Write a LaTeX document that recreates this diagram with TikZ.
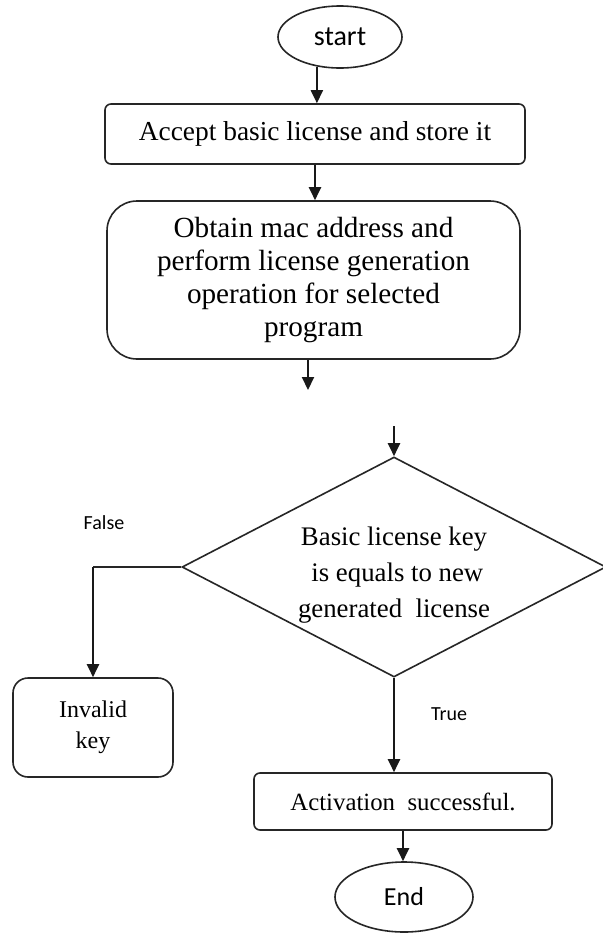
\documentclass[tikz,border=0pt]{standalone}
\usepackage{fontspec}
\setmainfont{Liberation Serif}
\newfontfamily\calib{Carlito}
\usetikzlibrary{shapes.geometric,arrows.meta,calc}

\begin{document}
\begin{tikzpicture}[x=0.5pt, y=-0.5pt,
    flowline/.style={draw=black!85, line width=0.8pt},
    flowarrow/.style={draw=black!90, line width=1pt, -{Triangle[length=6.5pt,width=6pt]}},
    terminal/.style={ellipse, flowline, fill=white, inner sep=0pt},
    procbox/.style={rectangle, flowline, fill=white, inner sep=0pt, align=center},
    decision/.style={diamond, flowline, inner sep=0pt, shape aspect=1.9, align=center},
    branchlabel/.style={font=\calib\fontsize{10}{12}\selectfont}]

    \fill[white] (0,0) rectangle (602,933);
    \useasboundingbox (0,0) rectangle (602,933);

    % Start and first step
    \node[terminal, minimum width=62pt, minimum height=31pt, font=\calib\fontsize{14}{16}\selectfont] (start) at (340,37) {start};
    \node[procbox, rounded corners=3pt, minimum width=210pt, minimum height=30pt, font=\fontsize{13.7}{16}\selectfont] (accept) at (315,134) {Accept basic license and store it};

    % Generation step
    \node[procbox, rounded corners=15pt, minimum width=206.5pt, minimum height=79pt, font=\fontsize{14.6}{16.5}\selectfont] (generate) at (313.5,280) {Obtain mac address and\\ perform license generation\\ operation for selected\\ program};
    \coordinate (gap) at (308,390);

    % Comparison
    \node[decision, minimum width=212pt, minimum height=110pt, font=\fontsize{13.4}{18}\selectfont] (check) at (394,567) {\rule{0pt}{17.5pt}Basic license key\\ ~is equals to new\\ generated~~license};
    \coordinate (into) at ($(check.north)+(0,-30)$);

    % Outcomes
    \node[procbox, rounded corners=7.5pt, minimum width=80pt, minimum height=49.5pt, font=\fontsize{12}{15.5}\selectfont] (invalid) at (93,727.5) {Invalid\\ key};
    \node[procbox, rounded corners=3pt, minimum width=149pt, minimum height=28.5pt, font=\fontsize{12.4}{15}\selectfont] (done) at (403,801.5) {Activation~~successful.};
    \node[terminal, minimum width=69pt, minimum height=35pt, font=\calib\fontsize{13}{15}\selectfont] (finish) at (404,897) {End};

    % Branch labels
    \node[branchlabel] (falselbl) at (104,523) {False};
    \node[branchlabel] (truelbl) at (449,714) {True};

    % Arrows
    \draw[flowarrow] (start.232) -- (start.232 |- accept.north);
    \draw[flowarrow] (accept.south) -- (accept.south |- generate.north);
    \draw[flowarrow] (generate.south -| gap) -- (gap);
    \draw[flowarrow] (into) -- (check.north);
    \draw[flowline] (check.west) -- (check.west -| invalid.north);
    \draw[flowarrow] (check.west -| invalid.north) -- (invalid.north);
    \draw[flowarrow] (check.south) -- (check.south |- done.north);
    \draw[flowarrow] (done.south) -- (done.south |- finish.north);
\end{tikzpicture}
\end{document}
